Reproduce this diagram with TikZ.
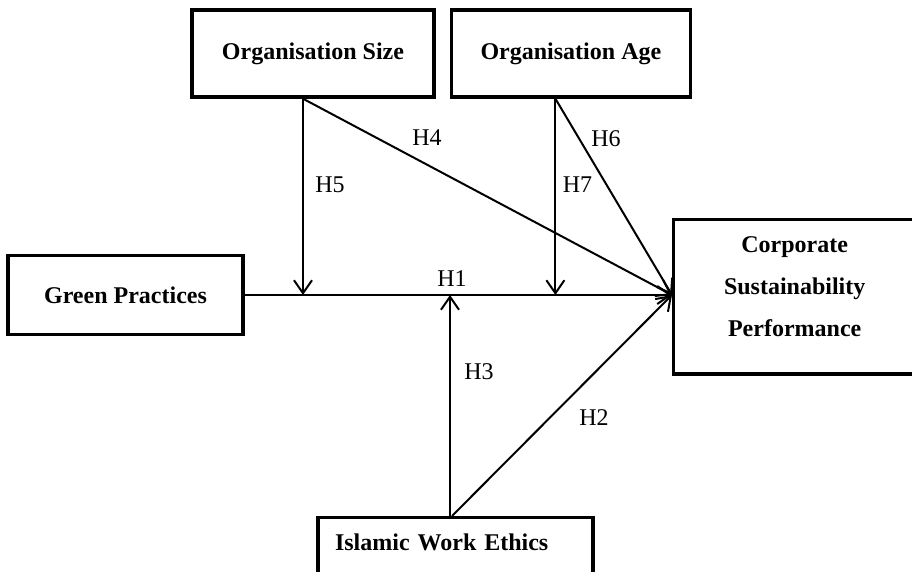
\documentclass[12pt,tikz,border=0pt]{standalone}
\usepackage{fontspec}
\setmainfont{Liberation Serif}
\usetikzlibrary{positioning}
\usetikzlibrary{arrows.meta}

\tikzset{
  var/.style={draw, line width=1.7pt, font=\fontsize{12}{14.4}\selectfont\bfseries},
  link/.style={line width=1pt, -{Straight Barb[length=6.5pt,width=9pt]}},
  hyp/.style={inner sep=0pt, font=\fontsize{12}{14.4}\selectfont},
}

\begin{document}
\begin{tikzpicture}[x=0.5pt, y=-0.5pt]
    \useasboundingbox (0,0) rectangle (912,572);
    \clip (0,0) rectangle (912,572);

    % moderators on top
    \node(size)[var, minimum width=121pt, minimum height=43.5pt] at (313,53.5) {Organisation Size};
    \node(age)[var, minimum width=119.5pt, minimum height=43.5pt, right=7pt of size] {Organisation Age};

    \node(green)[var, minimum width=117.5pt, minimum height=39.5pt] at (125.5,295) {Green Practices};
    \node(csp)[var, anchor=north west, minimum width=121pt, align=center,
        font=\bfseries\fontsize{12}{21}\selectfont, inner ysep=8.65pt, text depth=10pt]
        at (672,218) {Corporate\\Sustainability\\Performance};
    \node(iwe)[var, anchor=north, text width=120.5pt, align=left, inner xsep=8.5pt,
        inner ysep=8.3pt, text depth=20pt] at (455.5,516) {Islamic Work Ethics};

    \coordinate (hub) at (csp.west |- green.east);
    \coordinate (s5) at ([xshift=-5pt]size.south);
    \coordinate (a7) at ([xshift=-7.75pt]age.south);
    \coordinate (e3) at ([xshift=-2.75pt]iwe.north);
    \coordinate (j5) at (s5 |- green.east);
    \coordinate (j7) at (a7 |- green.east);
    \coordinate (j3) at (e3 |- green.east);

    \draw[link] (green.east) -- (hub);
    \draw[link] (s5) -- (j5);
    \draw[link] (s5) -- (hub);
    \draw[link] (a7) -- (j7);
    \draw[link] (a7) -- (hub);
    \draw[link] (e3) -- (j3);
    \draw[link] ([xshift=1pt]e3) -- (hub);

    % hypothesis labels
    \node(h1)[hyp] at (452,278.5) {H1};
    \node(h2)[hyp] at (594,417.5) {H2};
    \node(h3)[hyp] at (479,372) {H3};
    \node(h4)[hyp] at (427,138) {H4};
    \node(h5)[hyp] at (330,185) {H5};
    \node(h6)[hyp] at (606,139) {H6};
    \node(h7)[hyp] at (577.5,185) {H7};

\end{tikzpicture}
\end{document}
